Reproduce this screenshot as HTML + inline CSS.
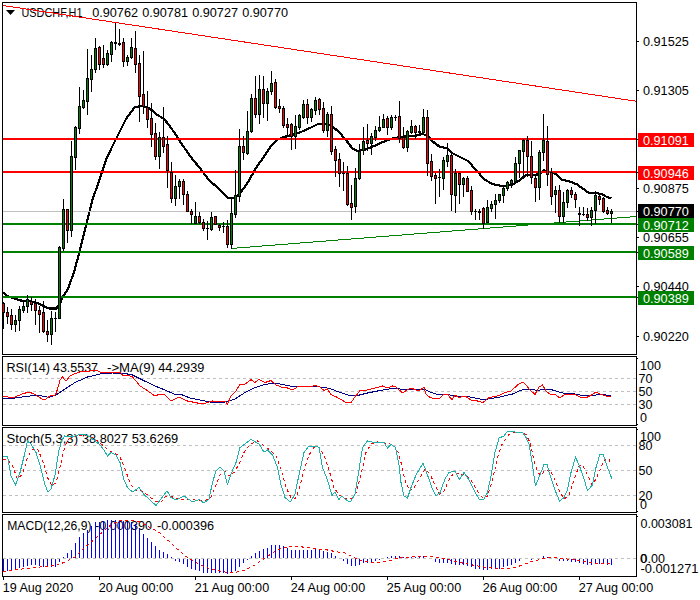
<!DOCTYPE html>
<html><head><meta charset="utf-8"><title>USDCHF,H1</title>
<style>html,body{margin:0;padding:0;background:#fff}svg{display:block}text{font-family:"Liberation Sans",sans-serif;font-size:12.5px;fill:#000}.w{fill:#fff}</style></head><body>
<svg width="700" height="600" viewBox="0 0 700 600">
<rect width="700" height="600" fill="#fff"/>
<polygon points="6,10 15,10 10.5,15" fill="#000"/>
<text x="21.5" y="17" textLength="61" lengthAdjust="spacingAndGlyphs">USDCHF,H1</text>
<text x="92.2" y="17" textLength="45.8" lengthAdjust="spacingAndGlyphs">0.90762</text>
<text x="142.2" y="17" textLength="45.8" lengthAdjust="spacingAndGlyphs">0.90781</text>
<text x="192.2" y="17" textLength="45.8" lengthAdjust="spacingAndGlyphs">0.90727</text>
<text x="242.2" y="17" textLength="45.8" lengthAdjust="spacingAndGlyphs">0.90770</text>
<text x="6.5" y="372" textLength="43.5" lengthAdjust="spacingAndGlyphs">RSI(14)</text>
<text x="53" y="372" textLength="45" lengthAdjust="spacingAndGlyphs">43.5537</text>
<text x="107" y="372" textLength="48" lengthAdjust="spacingAndGlyphs">-&gt;MA(9)</text>
<text x="158.3" y="372" textLength="46" lengthAdjust="spacingAndGlyphs">44.2939</text>
<text x="6.5" y="443" textLength="71.5" lengthAdjust="spacingAndGlyphs">Stoch(5,3,3)</text>
<text x="82" y="443" textLength="46" lengthAdjust="spacingAndGlyphs">38.8027</text>
<text x="131.7" y="443" textLength="46.5" lengthAdjust="spacingAndGlyphs">53.6269</text>
<text x="7.2" y="530" textLength="84.3" lengthAdjust="spacingAndGlyphs">MACD(12,26,9)</text>
<text x="95" y="530" textLength="57" lengthAdjust="spacingAndGlyphs">-0.000390</text>
<text x="157" y="530" textLength="57" lengthAdjust="spacingAndGlyphs">-0.000396</text>
<g shape-rendering="crispEdges">
</g>
<polyline points="2.8,292.4 8.0,296.4 20.0,300.4 32.0,301.6 40.0,304.0 48.0,308.4 56.0,308.6 60.0,304.0 62.0,298.0 68.0,289.0 74.0,272.0 80.0,250.0 86.4,224.0 92.4,200.0 100.0,178.0 106.0,160.0 112.0,147.0 118.0,135.0 126.0,119.0 135.0,107.0 142.0,106.0 150.0,108.6 156.0,114.0 164.0,119.0 169.0,125.0 176.0,135.0 179.0,140.0 190.0,156.0 203.0,172.0 208.0,179.0 220.0,190.0 228.0,198.0 235.0,198.0 240.0,193.6 248.0,182.0 256.0,168.0 263.0,158.0 271.0,146.0 273.0,144.0 277.0,140.0 282.0,137.5 288.0,136.0 294.0,134.5 300.0,132.4 310.0,128.0 318.0,124.0 328.0,124.0 334.0,128.0 338.0,131.0 346.0,140.0 352.0,148.0 357.0,151.0 364.0,150.0 374.0,146.0 384.0,141.6 394.0,138.0 404.0,136.6 414.0,136.0 423.0,134.0 429.0,137.0 432.0,141.0 440.0,147.0 447.0,148.0 452.0,153.0 460.0,157.0 468.0,161.0 476.0,170.0 484.0,179.0 492.0,184.0 502.0,186.0 512.0,185.0 520.0,180.0 526.0,175.0 534.0,175.0 540.0,174.0 544.0,170.0 548.0,172.0 552.0,172.0 556.0,174.4 561.5,179.4 570.0,181.5 577.0,184.4 583.0,188.7 588.7,192.7 597.3,193.0 603.0,194.7 607.3,197.3 611.6,198.0" fill="none" stroke="#000" stroke-width="2.2" stroke-linejoin="round" shape-rendering="crispEdges" />
<g shape-rendering="crispEdges">
<rect x="3" y="211" width="633" height="1" fill="#c0c0c0"/>
<rect x="3" y="138" width="633" height="2" fill="#ff0000"/>
<rect x="3" y="171" width="633" height="2" fill="#ff0000"/>
<rect x="3" y="223" width="633" height="2" fill="#008000"/>
<rect x="3" y="251" width="633" height="2" fill="#008000"/>
<rect x="3" y="296" width="633" height="2" fill="#008000"/>
</g>
<g shape-rendering="crispEdges" fill="none" stroke-width="1"><line x1="3" y1="5.5" x2="636" y2="101.2" stroke="#ff0000"/>
<line x1="231" y1="248.5" x2="636" y2="216.5" stroke="#008000"/></g>
<g shape-rendering="crispEdges">
<rect x="3" y="302" width="1" height="27" fill="#000"/>
<rect x="2" y="303" width="3" height="10" fill="#000"/>
<rect x="3" y="304" width="1" height="8" fill="#ff0000"/>
<rect x="7" y="307" width="1" height="17" fill="#000"/>
<rect x="6" y="312" width="3" height="5" fill="#000"/>
<rect x="7" y="313" width="1" height="3" fill="#ff0000"/>
<rect x="11" y="309" width="1" height="21" fill="#000"/>
<rect x="10" y="315" width="3" height="10" fill="#000"/>
<rect x="11" y="316" width="1" height="8" fill="#ff0000"/>
<rect x="15" y="315" width="1" height="17" fill="#000"/>
<rect x="14" y="320" width="3" height="5" fill="#000"/>
<rect x="15" y="321" width="1" height="3" fill="#008000"/>
<rect x="19" y="306" width="1" height="25" fill="#000"/>
<rect x="18" y="309" width="3" height="12" fill="#000"/>
<rect x="19" y="310" width="1" height="10" fill="#008000"/>
<rect x="23" y="302" width="1" height="11" fill="#000"/>
<rect x="22" y="306" width="3" height="5" fill="#000"/>
<rect x="23" y="307" width="1" height="3" fill="#008000"/>
<rect x="27" y="295" width="1" height="18" fill="#000"/>
<rect x="26" y="299" width="3" height="8" fill="#000"/>
<rect x="27" y="300" width="1" height="6" fill="#008000"/>
<rect x="31" y="297" width="1" height="14" fill="#000"/>
<rect x="30" y="301" width="3" height="4" fill="#000"/>
<rect x="31" y="302" width="1" height="2" fill="#ff0000"/>
<rect x="35" y="299" width="1" height="26" fill="#000"/>
<rect x="34" y="303" width="3" height="8" fill="#000"/>
<rect x="35" y="304" width="1" height="6" fill="#ff0000"/>
<rect x="39" y="306" width="1" height="27" fill="#000"/>
<rect x="38" y="310" width="3" height="5" fill="#000"/>
<rect x="39" y="311" width="1" height="3" fill="#ff0000"/>
<rect x="43" y="301" width="1" height="32" fill="#000"/>
<rect x="42" y="312" width="3" height="20" fill="#000"/>
<rect x="43" y="313" width="1" height="18" fill="#ff0000"/>
<rect x="47" y="320" width="1" height="22" fill="#000"/>
<rect x="46" y="331" width="3" height="4" fill="#000"/>
<rect x="47" y="332" width="1" height="2" fill="#ff0000"/>
<rect x="51" y="311" width="1" height="34" fill="#000"/>
<rect x="50" y="318" width="3" height="17" fill="#000"/>
<rect x="51" y="319" width="1" height="15" fill="#008000"/>
<rect x="55" y="312" width="1" height="20" fill="#000"/>
<rect x="54" y="318" width="3" height="1" fill="#000"/>
<rect x="59" y="246" width="1" height="73" fill="#000"/>
<rect x="58" y="247" width="3" height="72" fill="#000"/>
<rect x="59" y="248" width="1" height="70" fill="#008000"/>
<rect x="63" y="199" width="1" height="52" fill="#000"/>
<rect x="62" y="209" width="3" height="40" fill="#000"/>
<rect x="63" y="210" width="1" height="38" fill="#008000"/>
<rect x="67" y="209" width="1" height="34" fill="#000"/>
<rect x="66" y="209" width="3" height="22" fill="#000"/>
<rect x="67" y="210" width="1" height="20" fill="#ff0000"/>
<rect x="71" y="141" width="1" height="96" fill="#000"/>
<rect x="70" y="156" width="3" height="75" fill="#000"/>
<rect x="71" y="157" width="1" height="73" fill="#008000"/>
<rect x="75" y="126" width="1" height="44" fill="#000"/>
<rect x="74" y="127" width="3" height="31" fill="#000"/>
<rect x="75" y="128" width="1" height="29" fill="#008000"/>
<rect x="79" y="87" width="1" height="47" fill="#000"/>
<rect x="78" y="106" width="3" height="23" fill="#000"/>
<rect x="79" y="107" width="1" height="21" fill="#008000"/>
<rect x="83" y="90" width="1" height="19" fill="#000"/>
<rect x="82" y="100" width="3" height="8" fill="#000"/>
<rect x="83" y="101" width="1" height="6" fill="#008000"/>
<rect x="87" y="49" width="1" height="66" fill="#000"/>
<rect x="86" y="78" width="3" height="24" fill="#000"/>
<rect x="87" y="79" width="1" height="22" fill="#008000"/>
<rect x="91" y="55" width="1" height="37" fill="#000"/>
<rect x="90" y="69" width="3" height="11" fill="#000"/>
<rect x="91" y="70" width="1" height="9" fill="#008000"/>
<rect x="95" y="38" width="1" height="35" fill="#000"/>
<rect x="94" y="48" width="3" height="22" fill="#000"/>
<rect x="95" y="49" width="1" height="20" fill="#008000"/>
<rect x="99" y="46" width="1" height="24" fill="#000"/>
<rect x="98" y="47" width="3" height="18" fill="#000"/>
<rect x="99" y="48" width="1" height="16" fill="#ff0000"/>
<rect x="103" y="45" width="1" height="23" fill="#000"/>
<rect x="102" y="58" width="3" height="7" fill="#000"/>
<rect x="103" y="59" width="1" height="5" fill="#ff0000"/>
<rect x="107" y="50" width="1" height="16" fill="#000"/>
<rect x="106" y="53" width="3" height="12" fill="#000"/>
<rect x="107" y="54" width="1" height="10" fill="#008000"/>
<rect x="111" y="41" width="1" height="21" fill="#000"/>
<rect x="110" y="42" width="3" height="13" fill="#000"/>
<rect x="111" y="43" width="1" height="11" fill="#008000"/>
<rect x="115" y="23" width="1" height="27" fill="#000"/>
<rect x="114" y="42" width="3" height="2" fill="#000"/>
<rect x="119" y="29" width="1" height="17" fill="#000"/>
<rect x="118" y="43" width="3" height="2" fill="#000"/>
<rect x="123" y="38" width="1" height="29" fill="#000"/>
<rect x="122" y="42" width="3" height="20" fill="#000"/>
<rect x="123" y="43" width="1" height="18" fill="#ff0000"/>
<rect x="127" y="55" width="1" height="11" fill="#000"/>
<rect x="126" y="57" width="3" height="5" fill="#000"/>
<rect x="127" y="58" width="1" height="3" fill="#008000"/>
<rect x="131" y="38" width="1" height="21" fill="#000"/>
<rect x="130" y="47" width="3" height="11" fill="#000"/>
<rect x="131" y="48" width="1" height="9" fill="#008000"/>
<rect x="135" y="31" width="1" height="42" fill="#000"/>
<rect x="134" y="48" width="3" height="17" fill="#000"/>
<rect x="135" y="49" width="1" height="15" fill="#ff0000"/>
<rect x="139" y="55" width="1" height="67" fill="#000"/>
<rect x="138" y="63" width="3" height="34" fill="#000"/>
<rect x="139" y="64" width="1" height="32" fill="#ff0000"/>
<rect x="143" y="51" width="1" height="63" fill="#000"/>
<rect x="142" y="94" width="3" height="13" fill="#000"/>
<rect x="143" y="95" width="1" height="11" fill="#ff0000"/>
<rect x="147" y="91" width="1" height="37" fill="#000"/>
<rect x="146" y="107" width="3" height="13" fill="#000"/>
<rect x="147" y="108" width="1" height="11" fill="#ff0000"/>
<rect x="151" y="103" width="1" height="44" fill="#000"/>
<rect x="150" y="118" width="3" height="17" fill="#000"/>
<rect x="151" y="119" width="1" height="15" fill="#ff0000"/>
<rect x="155" y="123" width="1" height="37" fill="#000"/>
<rect x="154" y="133" width="3" height="24" fill="#000"/>
<rect x="155" y="134" width="1" height="22" fill="#ff0000"/>
<rect x="159" y="132" width="1" height="37" fill="#000"/>
<rect x="158" y="137" width="3" height="20" fill="#000"/>
<rect x="159" y="138" width="1" height="18" fill="#008000"/>
<rect x="163" y="107" width="1" height="46" fill="#000"/>
<rect x="162" y="137" width="3" height="10" fill="#000"/>
<rect x="163" y="138" width="1" height="8" fill="#ff0000"/>
<rect x="167" y="136" width="1" height="52" fill="#000"/>
<rect x="166" y="144" width="3" height="27" fill="#000"/>
<rect x="167" y="145" width="1" height="25" fill="#ff0000"/>
<rect x="171" y="162" width="1" height="41" fill="#000"/>
<rect x="170" y="172" width="3" height="27" fill="#000"/>
<rect x="171" y="173" width="1" height="25" fill="#ff0000"/>
<rect x="175" y="175" width="1" height="31" fill="#000"/>
<rect x="174" y="186" width="3" height="13" fill="#000"/>
<rect x="175" y="187" width="1" height="11" fill="#008000"/>
<rect x="179" y="179" width="1" height="20" fill="#000"/>
<rect x="178" y="181" width="3" height="6" fill="#000"/>
<rect x="179" y="182" width="1" height="4" fill="#008000"/>
<rect x="183" y="179" width="1" height="26" fill="#000"/>
<rect x="182" y="181" width="3" height="14" fill="#000"/>
<rect x="183" y="182" width="1" height="12" fill="#ff0000"/>
<rect x="187" y="191" width="1" height="21" fill="#000"/>
<rect x="186" y="194" width="3" height="18" fill="#000"/>
<rect x="187" y="195" width="1" height="16" fill="#ff0000"/>
<rect x="191" y="209" width="1" height="15" fill="#000"/>
<rect x="190" y="211" width="3" height="4" fill="#000"/>
<rect x="191" y="212" width="1" height="2" fill="#ff0000"/>
<rect x="195" y="202" width="1" height="22" fill="#000"/>
<rect x="194" y="216" width="3" height="8" fill="#000"/>
<rect x="195" y="217" width="1" height="6" fill="#008000"/>
<rect x="199" y="212" width="1" height="12" fill="#000"/>
<rect x="198" y="216" width="3" height="7" fill="#000"/>
<rect x="199" y="217" width="1" height="5" fill="#ff0000"/>
<rect x="203" y="219" width="1" height="12" fill="#000"/>
<rect x="202" y="222" width="3" height="7" fill="#000"/>
<rect x="203" y="223" width="1" height="5" fill="#ff0000"/>
<rect x="207" y="221" width="1" height="19" fill="#000"/>
<rect x="206" y="228" width="3" height="1" fill="#000"/>
<rect x="211" y="212" width="1" height="19" fill="#000"/>
<rect x="210" y="217" width="3" height="13" fill="#000"/>
<rect x="211" y="218" width="1" height="11" fill="#008000"/>
<rect x="215" y="216" width="1" height="9" fill="#000"/>
<rect x="214" y="216" width="3" height="9" fill="#000"/>
<rect x="215" y="217" width="1" height="7" fill="#ff0000"/>
<rect x="219" y="224" width="1" height="7" fill="#000"/>
<rect x="218" y="225" width="3" height="3" fill="#000"/>
<rect x="219" y="226" width="1" height="1" fill="#ff0000"/>
<rect x="223" y="222" width="1" height="11" fill="#000"/>
<rect x="222" y="226" width="3" height="1" fill="#000"/>
<rect x="227" y="220" width="1" height="28" fill="#000"/>
<rect x="226" y="226" width="3" height="19" fill="#000"/>
<rect x="227" y="227" width="1" height="17" fill="#ff0000"/>
<rect x="231" y="198" width="1" height="51" fill="#000"/>
<rect x="230" y="213" width="3" height="32" fill="#000"/>
<rect x="231" y="214" width="1" height="30" fill="#008000"/>
<rect x="235" y="170" width="1" height="48" fill="#000"/>
<rect x="234" y="195" width="3" height="20" fill="#000"/>
<rect x="235" y="196" width="1" height="18" fill="#008000"/>
<rect x="239" y="129" width="1" height="73" fill="#000"/>
<rect x="238" y="146" width="3" height="51" fill="#000"/>
<rect x="239" y="147" width="1" height="49" fill="#008000"/>
<rect x="243" y="136" width="1" height="24" fill="#000"/>
<rect x="242" y="146" width="3" height="7" fill="#000"/>
<rect x="243" y="147" width="1" height="5" fill="#ff0000"/>
<rect x="247" y="111" width="1" height="44" fill="#000"/>
<rect x="246" y="131" width="3" height="23" fill="#000"/>
<rect x="247" y="132" width="1" height="21" fill="#008000"/>
<rect x="251" y="94" width="1" height="39" fill="#000"/>
<rect x="250" y="98" width="3" height="34" fill="#000"/>
<rect x="251" y="99" width="1" height="32" fill="#008000"/>
<rect x="255" y="76" width="1" height="42" fill="#000"/>
<rect x="254" y="98" width="3" height="17" fill="#000"/>
<rect x="255" y="99" width="1" height="15" fill="#ff0000"/>
<rect x="259" y="75" width="1" height="49" fill="#000"/>
<rect x="258" y="89" width="3" height="26" fill="#000"/>
<rect x="259" y="90" width="1" height="24" fill="#008000"/>
<rect x="263" y="76" width="1" height="42" fill="#000"/>
<rect x="262" y="89" width="3" height="15" fill="#000"/>
<rect x="263" y="90" width="1" height="13" fill="#ff0000"/>
<rect x="267" y="88" width="1" height="33" fill="#000"/>
<rect x="266" y="91" width="3" height="13" fill="#000"/>
<rect x="267" y="92" width="1" height="11" fill="#008000"/>
<rect x="271" y="71" width="1" height="24" fill="#000"/>
<rect x="270" y="83" width="3" height="9" fill="#000"/>
<rect x="271" y="84" width="1" height="7" fill="#008000"/>
<rect x="275" y="79" width="1" height="30" fill="#000"/>
<rect x="274" y="82" width="3" height="26" fill="#000"/>
<rect x="275" y="83" width="1" height="24" fill="#ff0000"/>
<rect x="279" y="99" width="1" height="14" fill="#000"/>
<rect x="278" y="106" width="3" height="3" fill="#000"/>
<rect x="279" y="107" width="1" height="1" fill="#ff0000"/>
<rect x="283" y="106" width="1" height="22" fill="#000"/>
<rect x="282" y="108" width="3" height="18" fill="#000"/>
<rect x="283" y="109" width="1" height="16" fill="#ff0000"/>
<rect x="287" y="118" width="1" height="18" fill="#000"/>
<rect x="286" y="124" width="3" height="4" fill="#000"/>
<rect x="287" y="125" width="1" height="2" fill="#ff0000"/>
<rect x="291" y="123" width="1" height="27" fill="#000"/>
<rect x="290" y="124" width="3" height="13" fill="#000"/>
<rect x="291" y="125" width="1" height="11" fill="#ff0000"/>
<rect x="295" y="115" width="1" height="34" fill="#000"/>
<rect x="294" y="126" width="3" height="11" fill="#000"/>
<rect x="295" y="127" width="1" height="9" fill="#008000"/>
<rect x="299" y="114" width="1" height="16" fill="#000"/>
<rect x="298" y="115" width="3" height="13" fill="#000"/>
<rect x="299" y="116" width="1" height="11" fill="#008000"/>
<rect x="303" y="100" width="1" height="19" fill="#000"/>
<rect x="302" y="104" width="3" height="14" fill="#000"/>
<rect x="303" y="105" width="1" height="12" fill="#008000"/>
<rect x="307" y="99" width="1" height="25" fill="#000"/>
<rect x="306" y="104" width="3" height="14" fill="#000"/>
<rect x="307" y="105" width="1" height="12" fill="#ff0000"/>
<rect x="311" y="108" width="1" height="14" fill="#000"/>
<rect x="310" y="109" width="3" height="9" fill="#000"/>
<rect x="311" y="110" width="1" height="7" fill="#008000"/>
<rect x="315" y="97" width="1" height="18" fill="#000"/>
<rect x="314" y="100" width="3" height="11" fill="#000"/>
<rect x="315" y="101" width="1" height="9" fill="#008000"/>
<rect x="319" y="98" width="1" height="17" fill="#000"/>
<rect x="318" y="99" width="3" height="11" fill="#000"/>
<rect x="319" y="100" width="1" height="9" fill="#ff0000"/>
<rect x="323" y="102" width="1" height="31" fill="#000"/>
<rect x="322" y="108" width="3" height="23" fill="#000"/>
<rect x="323" y="109" width="1" height="21" fill="#ff0000"/>
<rect x="327" y="112" width="1" height="25" fill="#000"/>
<rect x="326" y="114" width="3" height="17" fill="#000"/>
<rect x="327" y="115" width="1" height="15" fill="#008000"/>
<rect x="331" y="106" width="1" height="49" fill="#000"/>
<rect x="330" y="114" width="3" height="38" fill="#000"/>
<rect x="331" y="115" width="1" height="36" fill="#ff0000"/>
<rect x="335" y="146" width="1" height="31" fill="#000"/>
<rect x="334" y="149" width="3" height="12" fill="#000"/>
<rect x="335" y="150" width="1" height="10" fill="#ff0000"/>
<rect x="339" y="153" width="1" height="34" fill="#000"/>
<rect x="338" y="159" width="3" height="15" fill="#000"/>
<rect x="339" y="160" width="1" height="13" fill="#ff0000"/>
<rect x="343" y="162" width="1" height="29" fill="#000"/>
<rect x="342" y="173" width="3" height="1" fill="#000"/>
<rect x="347" y="166" width="1" height="40" fill="#000"/>
<rect x="346" y="173" width="3" height="32" fill="#000"/>
<rect x="347" y="174" width="1" height="30" fill="#ff0000"/>
<rect x="351" y="185" width="1" height="35" fill="#000"/>
<rect x="350" y="203" width="3" height="5" fill="#000"/>
<rect x="351" y="204" width="1" height="3" fill="#ff0000"/>
<rect x="355" y="168" width="1" height="45" fill="#000"/>
<rect x="354" y="178" width="3" height="29" fill="#000"/>
<rect x="355" y="179" width="1" height="27" fill="#008000"/>
<rect x="359" y="144" width="1" height="36" fill="#000"/>
<rect x="358" y="151" width="3" height="28" fill="#000"/>
<rect x="359" y="152" width="1" height="26" fill="#008000"/>
<rect x="363" y="127" width="1" height="28" fill="#000"/>
<rect x="362" y="141" width="3" height="10" fill="#000"/>
<rect x="363" y="142" width="1" height="8" fill="#008000"/>
<rect x="367" y="124" width="1" height="27" fill="#000"/>
<rect x="366" y="140" width="3" height="4" fill="#000"/>
<rect x="367" y="141" width="1" height="2" fill="#ff0000"/>
<rect x="371" y="133" width="1" height="22" fill="#000"/>
<rect x="370" y="136" width="3" height="8" fill="#000"/>
<rect x="371" y="137" width="1" height="6" fill="#008000"/>
<rect x="375" y="126" width="1" height="15" fill="#000"/>
<rect x="374" y="130" width="3" height="8" fill="#000"/>
<rect x="375" y="131" width="1" height="6" fill="#008000"/>
<rect x="379" y="116" width="1" height="16" fill="#000"/>
<rect x="378" y="127" width="3" height="4" fill="#000"/>
<rect x="379" y="128" width="1" height="2" fill="#008000"/>
<rect x="383" y="114" width="1" height="14" fill="#000"/>
<rect x="382" y="119" width="3" height="9" fill="#000"/>
<rect x="383" y="120" width="1" height="7" fill="#008000"/>
<rect x="387" y="116" width="1" height="19" fill="#000"/>
<rect x="386" y="118" width="3" height="10" fill="#000"/>
<rect x="387" y="119" width="1" height="8" fill="#ff0000"/>
<rect x="391" y="115" width="1" height="15" fill="#000"/>
<rect x="390" y="117" width="3" height="11" fill="#000"/>
<rect x="391" y="118" width="1" height="9" fill="#008000"/>
<rect x="395" y="115" width="1" height="6" fill="#000"/>
<rect x="394" y="117" width="3" height="1" fill="#000"/>
<rect x="399" y="101" width="1" height="42" fill="#000"/>
<rect x="398" y="116" width="3" height="23" fill="#000"/>
<rect x="399" y="117" width="1" height="21" fill="#ff0000"/>
<rect x="403" y="127" width="1" height="22" fill="#000"/>
<rect x="402" y="137" width="3" height="11" fill="#000"/>
<rect x="403" y="138" width="1" height="9" fill="#ff0000"/>
<rect x="407" y="130" width="1" height="22" fill="#000"/>
<rect x="406" y="131" width="3" height="17" fill="#000"/>
<rect x="407" y="132" width="1" height="15" fill="#008000"/>
<rect x="411" y="120" width="1" height="14" fill="#000"/>
<rect x="410" y="126" width="3" height="7" fill="#000"/>
<rect x="411" y="127" width="1" height="5" fill="#008000"/>
<rect x="415" y="125" width="1" height="14" fill="#000"/>
<rect x="414" y="126" width="3" height="7" fill="#000"/>
<rect x="415" y="127" width="1" height="5" fill="#ff0000"/>
<rect x="419" y="125" width="1" height="11" fill="#000"/>
<rect x="418" y="131" width="3" height="2" fill="#000"/>
<rect x="423" y="109" width="1" height="26" fill="#000"/>
<rect x="422" y="117" width="3" height="16" fill="#000"/>
<rect x="423" y="118" width="1" height="14" fill="#008000"/>
<rect x="427" y="110" width="1" height="66" fill="#000"/>
<rect x="426" y="117" width="3" height="47" fill="#000"/>
<rect x="427" y="118" width="1" height="45" fill="#ff0000"/>
<rect x="431" y="154" width="1" height="27" fill="#000"/>
<rect x="430" y="161" width="3" height="16" fill="#000"/>
<rect x="431" y="162" width="1" height="14" fill="#ff0000"/>
<rect x="435" y="173" width="1" height="31" fill="#000"/>
<rect x="434" y="175" width="3" height="4" fill="#000"/>
<rect x="435" y="176" width="1" height="2" fill="#ff0000"/>
<rect x="439" y="169" width="1" height="28" fill="#000"/>
<rect x="438" y="177" width="3" height="1" fill="#000"/>
<rect x="443" y="157" width="1" height="33" fill="#000"/>
<rect x="442" y="160" width="3" height="19" fill="#000"/>
<rect x="443" y="161" width="1" height="17" fill="#008000"/>
<rect x="447" y="143" width="1" height="24" fill="#000"/>
<rect x="446" y="155" width="3" height="7" fill="#000"/>
<rect x="447" y="156" width="1" height="5" fill="#008000"/>
<rect x="451" y="153" width="1" height="58" fill="#000"/>
<rect x="450" y="155" width="3" height="40" fill="#000"/>
<rect x="451" y="156" width="1" height="38" fill="#ff0000"/>
<rect x="455" y="169" width="1" height="44" fill="#000"/>
<rect x="454" y="173" width="3" height="23" fill="#000"/>
<rect x="455" y="174" width="1" height="21" fill="#008000"/>
<rect x="459" y="173" width="1" height="31" fill="#000"/>
<rect x="458" y="173" width="3" height="12" fill="#000"/>
<rect x="459" y="174" width="1" height="10" fill="#ff0000"/>
<rect x="463" y="177" width="1" height="20" fill="#000"/>
<rect x="462" y="178" width="3" height="7" fill="#000"/>
<rect x="463" y="179" width="1" height="5" fill="#008000"/>
<rect x="467" y="176" width="1" height="16" fill="#000"/>
<rect x="466" y="178" width="3" height="14" fill="#000"/>
<rect x="467" y="179" width="1" height="12" fill="#ff0000"/>
<rect x="471" y="186" width="1" height="29" fill="#000"/>
<rect x="470" y="190" width="3" height="22" fill="#000"/>
<rect x="471" y="191" width="1" height="20" fill="#ff0000"/>
<rect x="475" y="209" width="1" height="11" fill="#000"/>
<rect x="474" y="211" width="3" height="1" fill="#000"/>
<rect x="479" y="209" width="1" height="11" fill="#000"/>
<rect x="478" y="211" width="3" height="2" fill="#000"/>
<rect x="483" y="207" width="1" height="22" fill="#000"/>
<rect x="482" y="208" width="3" height="16" fill="#000"/>
<rect x="483" y="209" width="1" height="14" fill="#ff0000"/>
<rect x="487" y="200" width="1" height="23" fill="#000"/>
<rect x="486" y="207" width="3" height="16" fill="#000"/>
<rect x="487" y="208" width="1" height="14" fill="#008000"/>
<rect x="491" y="201" width="1" height="11" fill="#000"/>
<rect x="490" y="204" width="3" height="5" fill="#000"/>
<rect x="491" y="205" width="1" height="3" fill="#008000"/>
<rect x="495" y="194" width="1" height="25" fill="#000"/>
<rect x="494" y="200" width="3" height="5" fill="#000"/>
<rect x="495" y="201" width="1" height="3" fill="#008000"/>
<rect x="499" y="194" width="1" height="9" fill="#000"/>
<rect x="498" y="194" width="3" height="7" fill="#000"/>
<rect x="499" y="195" width="1" height="5" fill="#008000"/>
<rect x="503" y="187" width="1" height="16" fill="#000"/>
<rect x="502" y="188" width="3" height="8" fill="#000"/>
<rect x="503" y="189" width="1" height="6" fill="#008000"/>
<rect x="507" y="181" width="1" height="10" fill="#000"/>
<rect x="506" y="182" width="3" height="7" fill="#000"/>
<rect x="507" y="183" width="1" height="5" fill="#008000"/>
<rect x="511" y="179" width="1" height="9" fill="#000"/>
<rect x="510" y="180" width="3" height="4" fill="#000"/>
<rect x="511" y="181" width="1" height="2" fill="#008000"/>
<rect x="515" y="157" width="1" height="27" fill="#000"/>
<rect x="514" y="163" width="3" height="19" fill="#000"/>
<rect x="515" y="164" width="1" height="17" fill="#008000"/>
<rect x="519" y="150" width="1" height="28" fill="#000"/>
<rect x="518" y="150" width="3" height="14" fill="#000"/>
<rect x="519" y="151" width="1" height="12" fill="#008000"/>
<rect x="523" y="139" width="1" height="38" fill="#000"/>
<rect x="522" y="140" width="3" height="12" fill="#000"/>
<rect x="523" y="141" width="1" height="10" fill="#008000"/>
<rect x="527" y="136" width="1" height="41" fill="#000"/>
<rect x="526" y="140" width="3" height="17" fill="#000"/>
<rect x="527" y="141" width="1" height="15" fill="#ff0000"/>
<rect x="531" y="141" width="1" height="43" fill="#000"/>
<rect x="530" y="156" width="3" height="22" fill="#000"/>
<rect x="531" y="157" width="1" height="20" fill="#ff0000"/>
<rect x="535" y="176" width="1" height="26" fill="#000"/>
<rect x="534" y="178" width="3" height="10" fill="#000"/>
<rect x="535" y="179" width="1" height="8" fill="#ff0000"/>
<rect x="539" y="150" width="1" height="50" fill="#000"/>
<rect x="538" y="152" width="3" height="36" fill="#000"/>
<rect x="539" y="153" width="1" height="34" fill="#008000"/>
<rect x="543" y="114" width="1" height="47" fill="#000"/>
<rect x="542" y="140" width="3" height="13" fill="#000"/>
<rect x="543" y="141" width="1" height="11" fill="#008000"/>
<rect x="547" y="126" width="1" height="60" fill="#000"/>
<rect x="546" y="141" width="3" height="34" fill="#000"/>
<rect x="547" y="142" width="1" height="32" fill="#ff0000"/>
<rect x="551" y="168" width="1" height="37" fill="#000"/>
<rect x="550" y="172" width="3" height="25" fill="#000"/>
<rect x="551" y="173" width="1" height="23" fill="#ff0000"/>
<rect x="555" y="186" width="1" height="27" fill="#000"/>
<rect x="554" y="190" width="3" height="5" fill="#000"/>
<rect x="555" y="191" width="1" height="3" fill="#008000"/>
<rect x="559" y="185" width="1" height="38" fill="#000"/>
<rect x="558" y="190" width="3" height="27" fill="#000"/>
<rect x="559" y="191" width="1" height="25" fill="#ff0000"/>
<rect x="563" y="192" width="1" height="31" fill="#000"/>
<rect x="562" y="202" width="3" height="15" fill="#000"/>
<rect x="563" y="203" width="1" height="13" fill="#008000"/>
<rect x="567" y="189" width="1" height="19" fill="#000"/>
<rect x="566" y="190" width="3" height="13" fill="#000"/>
<rect x="567" y="191" width="1" height="11" fill="#008000"/>
<rect x="571" y="187" width="1" height="11" fill="#000"/>
<rect x="570" y="190" width="3" height="5" fill="#000"/>
<rect x="571" y="191" width="1" height="3" fill="#ff0000"/>
<rect x="575" y="192" width="1" height="16" fill="#000"/>
<rect x="574" y="194" width="3" height="6" fill="#000"/>
<rect x="575" y="195" width="1" height="4" fill="#ff0000"/>
<rect x="579" y="207" width="1" height="19" fill="#000"/>
<rect x="578" y="213" width="3" height="2" fill="#000"/>
<rect x="583" y="207" width="1" height="9" fill="#000"/>
<rect x="582" y="214" width="3" height="1" fill="#000"/>
<rect x="587" y="208" width="1" height="13" fill="#000"/>
<rect x="586" y="214" width="3" height="4" fill="#000"/>
<rect x="587" y="215" width="1" height="2" fill="#ff0000"/>
<rect x="591" y="207" width="1" height="19" fill="#000"/>
<rect x="590" y="210" width="3" height="8" fill="#000"/>
<rect x="591" y="211" width="1" height="6" fill="#008000"/>
<rect x="595" y="191" width="1" height="33" fill="#000"/>
<rect x="594" y="195" width="3" height="16" fill="#000"/>
<rect x="595" y="196" width="1" height="14" fill="#008000"/>
<rect x="599" y="194" width="1" height="11" fill="#000"/>
<rect x="598" y="196" width="3" height="4" fill="#000"/>
<rect x="599" y="197" width="1" height="2" fill="#ff0000"/>
<rect x="603" y="197" width="1" height="16" fill="#000"/>
<rect x="602" y="198" width="3" height="14" fill="#000"/>
<rect x="603" y="199" width="1" height="12" fill="#ff0000"/>
<rect x="607" y="207" width="1" height="8" fill="#000"/>
<rect x="606" y="210" width="3" height="4" fill="#000"/>
<rect x="607" y="211" width="1" height="2" fill="#ff0000"/>
<rect x="611" y="209" width="1" height="14" fill="#000"/>
<rect x="610" y="211" width="3" height="3" fill="#000"/>
<rect x="611" y="212" width="1" height="1" fill="#008000"/>
</g>
<g shape-rendering="crispEdges">
<line x1="3" y1="378.5" x2="636" y2="378.5" stroke="#c0c0c0" stroke-width="1" stroke-dasharray="3 3"/>
<line x1="3" y1="391.5" x2="636" y2="391.5" stroke="#c0c0c0" stroke-width="1" stroke-dasharray="3 3"/>
<line x1="3" y1="404.5" x2="636" y2="404.5" stroke="#c0c0c0" stroke-width="1" stroke-dasharray="3 3"/>
<line x1="3" y1="445.5" x2="636" y2="445.5" stroke="#c0c0c0" stroke-width="1" stroke-dasharray="3 3"/>
<line x1="3" y1="470.5" x2="636" y2="470.5" stroke="#c0c0c0" stroke-width="1" stroke-dasharray="3 3"/>
<line x1="3" y1="495.5" x2="636" y2="495.5" stroke="#c0c0c0" stroke-width="1" stroke-dasharray="3 3"/>
<line x1="3" y1="558.5" x2="636" y2="558.5" stroke="#c0c0c0" stroke-width="1" stroke-dasharray="3 3"/>
</g>
<polyline points="3.0,398.0 15.0,398.0 30.0,396.0 40.0,395.5 49.0,397.5 56.0,395.0 65.0,389.0 75.0,382.5 87.5,377.0 100.0,374.0 112.5,373.0 122.5,373.0 132.5,375.0 142.5,380.0 155.0,386.0 165.0,390.0 175.0,394.5 182.5,395.0 190.0,398.0 200.0,400.0 210.0,402.0 225.0,402.0 235.0,399.0 245.0,392.5 255.0,387.5 265.0,384.5 275.0,383.0 285.0,385.0 295.0,387.0 305.0,386.0 320.0,387.0 330.0,388.5 340.0,392.5 351.0,396.0 357.5,395.5 367.5,393.0 380.0,390.5 395.0,388.0 402.5,389.5 415.0,389.5 424.0,389.0 430.0,392.0 437.5,394.5 447.5,394.5 455.0,396.0 465.0,396.0 472.5,397.5 480.0,399.0 487.5,399.0 500.0,397.0 512.5,394.0 524.0,389.0 532.5,389.5 537.5,390.5 544.0,389.0 552.5,390.0 562.5,393.0 575.0,394.0 585.0,396.0 592.5,395.5 600.0,394.5 611.0,395.5" fill="none" stroke="#000080" stroke-width="1" stroke-linejoin="round" shape-rendering="crispEdges" />
<polyline points="3.0,396.0 10.0,397.5 15.0,397.0 22.0,394.0 29.0,392.0 35.0,394.5 42.0,399.0 46.0,399.0 50.0,396.0 55.5,395.0 58.0,387.5 60.0,380.0 62.5,377.0 66.0,381.0 70.0,376.0 74.0,374.0 80.0,372.0 90.0,371.0 96.0,370.0 100.0,372.0 107.5,372.5 115.0,372.0 120.0,372.0 122.5,375.0 127.5,375.0 132.5,377.0 136.0,381.0 140.0,386.0 145.0,389.0 150.0,392.5 155.0,396.0 160.0,394.0 165.0,395.0 171.0,401.0 179.0,397.0 187.5,401.0 202.5,404.0 212.5,401.0 220.0,402.0 225.0,401.0 227.5,404.0 231.0,396.0 236.0,391.0 240.0,384.0 244.0,385.0 251.0,379.5 255.0,382.5 259.0,379.5 265.0,382.5 271.0,380.5 276.0,385.0 282.5,387.5 287.5,388.0 292.5,390.0 299.0,386.0 304.0,386.0 309.0,387.0 315.0,385.5 320.0,387.0 324.0,390.5 327.5,389.0 331.0,394.5 337.5,397.5 346.0,402.5 351.0,402.5 355.0,397.0 360.0,390.5 367.5,390.0 375.0,388.0 382.5,386.0 387.5,388.0 392.5,386.0 396.0,387.0 399.0,390.0 403.0,393.0 407.5,389.5 411.0,388.0 416.0,390.0 420.0,390.0 424.0,387.5 426.0,394.0 430.0,397.5 435.0,399.0 440.0,398.0 444.0,394.0 447.5,394.0 452.0,400.0 455.0,395.0 459.0,397.5 465.0,396.0 471.0,400.0 477.5,401.0 483.0,402.5 489.0,397.5 497.5,396.0 505.0,392.5 511.0,391.0 517.5,385.0 523.0,382.0 526.0,385.0 530.0,390.0 535.0,394.5 539.0,387.0 542.5,385.0 546.0,391.0 551.0,395.0 555.0,394.5 560.0,398.0 565.0,394.0 575.0,394.5 580.0,397.0 587.5,397.0 592.5,394.5 596.0,392.0 600.0,394.0 606.0,396.0 611.0,396.0" fill="none" stroke="#ff0000" stroke-width="1" stroke-linejoin="round" shape-rendering="crispEdges" />
<polyline points="3.0,459.0 7.5,459.0 12.5,466.0 17.5,479.0 22.5,474.0 27.5,457.5 32.5,449.0 37.5,449.0 42.5,460.0 47.5,477.5 52.0,486.0 56.0,482.5 60.0,467.5 64.0,450.0 67.5,440.0 72.5,437.0 80.0,435.0 87.5,435.5 95.0,439.0 102.5,445.0 109.0,451.0 115.0,453.0 120.0,457.0 125.0,469.0 130.0,482.5 135.0,490.5 141.0,490.5 147.5,495.0 155.0,501.0 161.0,502.0 166.0,496.0 172.5,497.0 180.0,499.0 187.5,499.0 195.0,500.0 202.5,501.0 210.0,499.0 215.0,487.5 220.0,475.0 225.0,471.0 229.0,476.0 234.0,472.5 239.0,464.0 244.0,452.5 250.0,444.5 257.5,441.0 264.0,446.0 270.0,450.0 276.0,456.0 281.0,469.0 286.0,487.5 291.0,497.5 295.0,499.0 299.0,490.0 304.0,470.0 309.0,455.0 314.0,447.5 319.0,447.0 324.0,455.0 329.0,470.0 334.0,487.5 339.0,495.0 345.0,498.0 351.0,499.0 356.0,492.5 361.0,475.0 366.0,452.5 371.0,444.0 377.5,442.0 385.0,443.0 392.5,444.5 397.5,450.0 401.0,462.5 405.0,480.0 409.5,491.0 414.0,487.5 419.0,479.0 425.0,469.5 430.0,474.0 435.0,485.0 439.5,494.0 444.0,491.0 449.0,480.0 454.0,472.5 460.0,474.0 466.0,475.0 471.0,480.0 477.5,491.0 482.5,498.0 487.5,496.0 492.5,480.0 497.5,457.5 502.5,443.0 509.0,434.5 514.0,432.5 520.0,432.5 526.0,434.5 530.0,442.5 534.0,460.0 537.5,472.5 541.0,475.0 545.5,470.0 550.0,470.0 555.0,480.0 560.0,492.5 564.5,499.0 569.0,495.0 574.0,480.0 579.0,466.0 582.5,465.0 587.5,475.0 592.0,485.0 596.0,479.0 601.0,467.5 605.0,459.0 609.0,459.0 611.0,465.0" fill="none" stroke="#ff0000" stroke-width="1" stroke-linejoin="round" shape-rendering="crispEdges" stroke-dasharray="3 3"/>
<polyline points="3.0,456.0 7.5,456.0 11.0,476.0 15.5,485.0 20.0,472.5 25.0,452.5 27.5,441.0 31.0,444.0 36.0,452.5 40.0,465.0 45.0,485.0 48.0,492.0 51.0,489.0 55.0,475.0 59.0,450.0 62.0,440.0 64.5,436.0 70.0,437.0 75.0,436.0 79.0,434.5 85.0,434.5 90.0,437.0 95.0,441.0 100.0,445.0 104.0,450.0 107.5,456.0 111.0,452.5 116.0,455.0 120.0,462.5 124.0,480.0 127.5,487.5 132.5,492.0 139.0,487.5 144.0,494.5 150.0,500.0 156.0,505.5 161.0,499.0 167.0,491.0 171.0,497.5 176.0,500.0 184.0,496.0 189.0,499.5 192.5,502.0 199.0,499.5 204.0,503.0 209.0,499.0 212.5,482.5 216.0,471.0 220.0,467.0 224.0,471.0 227.5,485.0 231.0,474.0 236.0,462.5 240.0,447.5 245.0,444.0 251.0,439.5 259.0,444.0 264.0,452.0 267.5,450.0 272.5,455.0 277.5,467.5 281.0,485.0 285.0,497.5 289.0,501.0 291.0,501.0 295.0,494.0 300.0,470.0 304.0,452.5 309.0,446.0 315.0,446.0 319.0,447.5 322.5,467.5 327.5,480.0 332.0,495.5 335.0,492.0 339.0,499.5 342.0,496.0 347.5,501.0 351.0,501.0 355.0,494.0 359.0,470.0 362.5,447.5 367.5,441.0 374.0,442.5 384.0,442.5 387.5,448.0 391.0,444.5 395.5,447.5 399.0,465.0 401.0,482.5 404.0,496.0 407.5,498.0 411.0,487.5 416.0,475.0 423.0,463.0 427.5,475.0 432.5,489.0 436.0,496.0 440.0,492.5 445.0,479.0 449.0,472.5 455.0,471.0 459.5,479.5 464.0,472.5 469.0,480.0 474.0,490.0 479.5,500.0 484.0,499.0 487.5,492.5 491.0,476.0 495.0,452.5 499.0,438.0 504.0,436.0 507.5,431.0 512.5,431.0 517.5,433.0 522.5,432.5 526.0,437.5 529.0,444.0 532.5,465.0 535.5,486.0 540.0,475.0 544.0,464.5 547.0,464.5 550.0,475.0 555.0,490.0 559.5,501.0 564.0,497.5 567.5,490.0 571.0,472.5 575.5,457.0 580.0,467.5 584.0,479.0 587.5,490.5 592.5,485.0 596.0,467.5 600.0,454.0 603.0,454.0 607.5,467.5 612.0,479.0" fill="none" stroke="#20b2aa" stroke-width="1" stroke-linejoin="round" shape-rendering="crispEdges" />
<g shape-rendering="crispEdges">
<rect x="3" y="559" width="1" height="13" fill="#0000ff"/>
<rect x="7" y="559" width="1" height="12" fill="#0000ff"/>
<rect x="11" y="559" width="1" height="11" fill="#0000ff"/>
<rect x="15" y="559" width="1" height="10" fill="#0000ff"/>
<rect x="19" y="559" width="1" height="9" fill="#0000ff"/>
<rect x="23" y="559" width="1" height="8" fill="#0000ff"/>
<rect x="27" y="559" width="1" height="7" fill="#0000ff"/>
<rect x="31" y="559" width="1" height="6" fill="#0000ff"/>
<rect x="35" y="559" width="1" height="6" fill="#0000ff"/>
<rect x="39" y="559" width="1" height="7" fill="#0000ff"/>
<rect x="43" y="559" width="1" height="8" fill="#0000ff"/>
<rect x="47" y="559" width="1" height="8" fill="#0000ff"/>
<rect x="51" y="559" width="1" height="8" fill="#0000ff"/>
<rect x="55" y="559" width="1" height="8" fill="#0000ff"/>
<rect x="59" y="559" width="1" height="3" fill="#0000ff"/>
<rect x="63" y="557" width="1" height="1" fill="#0000ff"/>
<rect x="67" y="553" width="1" height="5" fill="#0000ff"/>
<rect x="71" y="550" width="1" height="8" fill="#0000ff"/>
<rect x="75" y="543" width="1" height="15" fill="#0000ff"/>
<rect x="79" y="537" width="1" height="21" fill="#0000ff"/>
<rect x="83" y="533" width="1" height="25" fill="#0000ff"/>
<rect x="87" y="530" width="1" height="28" fill="#0000ff"/>
<rect x="91" y="526" width="1" height="32" fill="#0000ff"/>
<rect x="95" y="522" width="1" height="36" fill="#0000ff"/>
<rect x="99" y="522" width="1" height="36" fill="#0000ff"/>
<rect x="103" y="521" width="1" height="37" fill="#0000ff"/>
<rect x="107" y="520" width="1" height="38" fill="#0000ff"/>
<rect x="111" y="520" width="1" height="38" fill="#0000ff"/>
<rect x="115" y="520" width="1" height="38" fill="#0000ff"/>
<rect x="119" y="520" width="1" height="38" fill="#0000ff"/>
<rect x="123" y="521" width="1" height="37" fill="#0000ff"/>
<rect x="127" y="522" width="1" height="36" fill="#0000ff"/>
<rect x="131" y="522" width="1" height="36" fill="#0000ff"/>
<rect x="135" y="524" width="1" height="34" fill="#0000ff"/>
<rect x="139" y="528" width="1" height="30" fill="#0000ff"/>
<rect x="143" y="534" width="1" height="24" fill="#0000ff"/>
<rect x="147" y="538" width="1" height="20" fill="#0000ff"/>
<rect x="151" y="542" width="1" height="16" fill="#0000ff"/>
<rect x="155" y="546" width="1" height="12" fill="#0000ff"/>
<rect x="159" y="550" width="1" height="8" fill="#0000ff"/>
<rect x="163" y="552" width="1" height="6" fill="#0000ff"/>
<rect x="167" y="554" width="1" height="4" fill="#0000ff"/>
<rect x="171" y="557" width="1" height="1" fill="#0000ff"/>
<rect x="175" y="559" width="1" height="2" fill="#0000ff"/>
<rect x="179" y="559" width="1" height="3" fill="#0000ff"/>
<rect x="183" y="559" width="1" height="5" fill="#0000ff"/>
<rect x="187" y="559" width="1" height="8" fill="#0000ff"/>
<rect x="191" y="559" width="1" height="10" fill="#0000ff"/>
<rect x="195" y="559" width="1" height="11" fill="#0000ff"/>
<rect x="199" y="559" width="1" height="12" fill="#0000ff"/>
<rect x="203" y="559" width="1" height="14" fill="#0000ff"/>
<rect x="207" y="559" width="1" height="14" fill="#0000ff"/>
<rect x="211" y="559" width="1" height="14" fill="#0000ff"/>
<rect x="215" y="559" width="1" height="14" fill="#0000ff"/>
<rect x="219" y="559" width="1" height="14" fill="#0000ff"/>
<rect x="223" y="559" width="1" height="14" fill="#0000ff"/>
<rect x="227" y="559" width="1" height="15" fill="#0000ff"/>
<rect x="231" y="559" width="1" height="14" fill="#0000ff"/>
<rect x="235" y="559" width="1" height="12" fill="#0000ff"/>
<rect x="239" y="559" width="1" height="8" fill="#0000ff"/>
<rect x="243" y="559" width="1" height="4" fill="#0000ff"/>
<rect x="247" y="559" width="1" height="1" fill="#0000ff"/>
<rect x="251" y="556" width="1" height="2" fill="#0000ff"/>
<rect x="255" y="553" width="1" height="5" fill="#0000ff"/>
<rect x="259" y="551" width="1" height="7" fill="#0000ff"/>
<rect x="263" y="549" width="1" height="9" fill="#0000ff"/>
<rect x="267" y="548" width="1" height="10" fill="#0000ff"/>
<rect x="271" y="545" width="1" height="13" fill="#0000ff"/>
<rect x="275" y="545" width="1" height="13" fill="#0000ff"/>
<rect x="279" y="545" width="1" height="13" fill="#0000ff"/>
<rect x="283" y="546" width="1" height="12" fill="#0000ff"/>
<rect x="287" y="548" width="1" height="10" fill="#0000ff"/>
<rect x="291" y="550" width="1" height="8" fill="#0000ff"/>
<rect x="295" y="550" width="1" height="8" fill="#0000ff"/>
<rect x="299" y="550" width="1" height="8" fill="#0000ff"/>
<rect x="303" y="550" width="1" height="8" fill="#0000ff"/>
<rect x="307" y="550" width="1" height="8" fill="#0000ff"/>
<rect x="311" y="550" width="1" height="8" fill="#0000ff"/>
<rect x="315" y="549" width="1" height="9" fill="#0000ff"/>
<rect x="319" y="550" width="1" height="8" fill="#0000ff"/>
<rect x="323" y="551" width="1" height="7" fill="#0000ff"/>
<rect x="327" y="552" width="1" height="6" fill="#0000ff"/>
<rect x="331" y="553" width="1" height="5" fill="#0000ff"/>
<rect x="335" y="556" width="1" height="2" fill="#0000ff"/>
<rect x="343" y="559" width="1" height="2" fill="#0000ff"/>
<rect x="347" y="559" width="1" height="5" fill="#0000ff"/>
<rect x="351" y="559" width="1" height="7" fill="#0000ff"/>
<rect x="355" y="559" width="1" height="7" fill="#0000ff"/>
<rect x="359" y="559" width="1" height="6" fill="#0000ff"/>
<rect x="363" y="559" width="1" height="4" fill="#0000ff"/>
<rect x="367" y="559" width="1" height="4" fill="#0000ff"/>
<rect x="371" y="559" width="1" height="4" fill="#0000ff"/>
<rect x="375" y="559" width="1" height="2" fill="#0000ff"/>
<rect x="379" y="559" width="1" height="1" fill="#0000ff"/>
<rect x="387" y="557" width="1" height="1" fill="#0000ff"/>
<rect x="391" y="556" width="1" height="2" fill="#0000ff"/>
<rect x="395" y="556" width="1" height="2" fill="#0000ff"/>
<rect x="399" y="556" width="1" height="2" fill="#0000ff"/>
<rect x="403" y="557" width="1" height="1" fill="#0000ff"/>
<rect x="411" y="557" width="1" height="1" fill="#0000ff"/>
<rect x="415" y="557" width="1" height="1" fill="#0000ff"/>
<rect x="419" y="557" width="1" height="1" fill="#0000ff"/>
<rect x="423" y="556" width="1" height="2" fill="#0000ff"/>
<rect x="435" y="559" width="1" height="3" fill="#0000ff"/>
<rect x="439" y="559" width="1" height="4" fill="#0000ff"/>
<rect x="443" y="559" width="1" height="4" fill="#0000ff"/>
<rect x="447" y="559" width="1" height="4" fill="#0000ff"/>
<rect x="451" y="559" width="1" height="5" fill="#0000ff"/>
<rect x="455" y="559" width="1" height="6" fill="#0000ff"/>
<rect x="459" y="559" width="1" height="6" fill="#0000ff"/>
<rect x="463" y="559" width="1" height="6" fill="#0000ff"/>
<rect x="467" y="559" width="1" height="7" fill="#0000ff"/>
<rect x="471" y="559" width="1" height="8" fill="#0000ff"/>
<rect x="475" y="559" width="1" height="10" fill="#0000ff"/>
<rect x="479" y="559" width="1" height="10" fill="#0000ff"/>
<rect x="483" y="559" width="1" height="11" fill="#0000ff"/>
<rect x="487" y="559" width="1" height="11" fill="#0000ff"/>
<rect x="491" y="559" width="1" height="10" fill="#0000ff"/>
<rect x="495" y="559" width="1" height="10" fill="#0000ff"/>
<rect x="499" y="559" width="1" height="10" fill="#0000ff"/>
<rect x="503" y="559" width="1" height="8" fill="#0000ff"/>
<rect x="507" y="559" width="1" height="7" fill="#0000ff"/>
<rect x="511" y="559" width="1" height="6" fill="#0000ff"/>
<rect x="515" y="559" width="1" height="4" fill="#0000ff"/>
<rect x="519" y="559" width="1" height="2" fill="#0000ff"/>
<rect x="531" y="559" width="1" height="1" fill="#0000ff"/>
<rect x="543" y="556" width="1" height="2" fill="#0000ff"/>
<rect x="547" y="557" width="1" height="1" fill="#0000ff"/>
<rect x="559" y="559" width="1" height="2" fill="#0000ff"/>
<rect x="563" y="559" width="1" height="2" fill="#0000ff"/>
<rect x="567" y="559" width="1" height="2" fill="#0000ff"/>
<rect x="571" y="559" width="1" height="3" fill="#0000ff"/>
<rect x="575" y="559" width="1" height="3" fill="#0000ff"/>
<rect x="579" y="559" width="1" height="4" fill="#0000ff"/>
<rect x="583" y="559" width="1" height="5" fill="#0000ff"/>
<rect x="587" y="559" width="1" height="6" fill="#0000ff"/>
<rect x="591" y="559" width="1" height="6" fill="#0000ff"/>
<rect x="595" y="559" width="1" height="5" fill="#0000ff"/>
<rect x="599" y="559" width="1" height="5" fill="#0000ff"/>
<rect x="603" y="559" width="1" height="5" fill="#0000ff"/>
<rect x="607" y="559" width="1" height="6" fill="#0000ff"/>
<rect x="611" y="559" width="1" height="6" fill="#0000ff"/>
</g>
<polyline points="3.0,572.0 15.0,570.0 30.0,568.0 45.0,566.5 57.5,565.0 67.5,561.0 75.0,557.0 82.5,549.5 92.5,541.0 102.5,532.0 109.5,526.0 116.0,522.5 122.0,520.0 131.0,520.0 137.0,521.0 142.0,523.0 153.0,529.0 160.0,533.0 165.0,538.0 170.0,542.0 175.0,547.0 185.0,555.8 195.0,562.0 205.0,567.0 215.0,570.0 225.0,572.0 235.0,572.5 245.0,570.0 255.0,565.0 265.0,558.0 272.5,553.0 280.0,549.0 287.5,547.0 297.5,546.5 307.5,547.5 317.5,549.0 327.5,550.0 337.5,552.0 345.0,553.0 352.5,557.0 360.0,560.0 367.5,562.0 375.0,563.0 382.5,562.0 390.0,560.8 397.5,558.0 405.0,557.5 415.0,556.5 430.0,556.5 440.0,557.8 450.0,560.0 460.0,562.5 470.0,564.5 480.0,566.5 492.5,568.0 505.0,568.5 515.0,567.5 522.5,565.0 530.0,562.0 540.0,559.5 547.5,557.8 557.5,557.5 565.0,558.8 575.0,560.0 585.0,561.5 595.0,563.0 605.0,563.5 611.5,563.5" fill="none" stroke="#ff0000" stroke-width="1" stroke-linejoin="round" shape-rendering="crispEdges" stroke-dasharray="3 3"/>
<g shape-rendering="crispEdges">
<rect x="2" y="2" width="635" height="1" fill="#000"/>
<rect x="2" y="354" width="635" height="1" fill="#000"/>
<rect x="2" y="2" width="1" height="353" fill="#000"/>
<rect x="636" y="2" width="1" height="353" fill="#000"/>
<rect x="2" y="356" width="635" height="1" fill="#000"/>
<rect x="2" y="425" width="635" height="1" fill="#000"/>
<rect x="2" y="356" width="1" height="70" fill="#000"/>
<rect x="636" y="356" width="1" height="70" fill="#000"/>
<rect x="2" y="427" width="635" height="1" fill="#000"/>
<rect x="2" y="512" width="635" height="1" fill="#000"/>
<rect x="2" y="427" width="1" height="86" fill="#000"/>
<rect x="636" y="427" width="1" height="86" fill="#000"/>
<rect x="2" y="514" width="635" height="1" fill="#000"/>
<rect x="2" y="576" width="635" height="1" fill="#000"/>
<rect x="2" y="514" width="1" height="63" fill="#000"/>
<rect x="636" y="514" width="1" height="63" fill="#000"/>
<rect x="637" y="41" width="2" height="1" fill="#000"/>
<rect x="637" y="90" width="2" height="1" fill="#000"/>
<rect x="637" y="188" width="2" height="1" fill="#000"/>
<rect x="637" y="237" width="2" height="1" fill="#000"/>
<rect x="637" y="286" width="2" height="1" fill="#000"/>
<rect x="637" y="336" width="2" height="1" fill="#000"/>
<rect x="3" y="577" width="1" height="3" fill="#000"/>
<rect x="99" y="577" width="1" height="3" fill="#000"/>
<rect x="195" y="577" width="1" height="3" fill="#000"/>
<rect x="291" y="577" width="1" height="3" fill="#000"/>
<rect x="387" y="577" width="1" height="3" fill="#000"/>
<rect x="483" y="577" width="1" height="3" fill="#000"/>
<rect x="579" y="577" width="1" height="3" fill="#000"/>
<rect x="638" y="133" width="56" height="14" fill="#ff0000"/>
<rect x="638" y="166" width="56" height="14" fill="#ff0000"/>
<rect x="638" y="204" width="56" height="14" fill="#000"/>
<rect x="638" y="218" width="56" height="14" fill="#008000"/>
<rect x="638" y="246" width="56" height="14" fill="#008000"/>
<rect x="638" y="291" width="56" height="14" fill="#008000"/>
<rect x="637" y="358" width="1" height="1" fill="#000"/>
<rect x="637" y="424" width="1" height="1" fill="#000"/>
<rect x="637" y="429" width="1" height="1" fill="#000"/>
<rect x="637" y="511" width="1" height="1" fill="#000"/>
<rect x="637" y="516" width="1" height="1" fill="#000"/>
<rect x="637" y="139" width="1" height="1" fill="#000"/>
<rect x="637" y="172" width="1" height="1" fill="#000"/>
<rect x="637" y="211" width="1" height="1" fill="#000"/>
<rect x="637" y="224" width="1" height="1" fill="#000"/>
<rect x="637" y="252" width="1" height="1" fill="#000"/>
<rect x="637" y="297" width="1" height="1" fill="#000"/>
</g>
<text x="643" y="46" textLength="45.8" lengthAdjust="spacingAndGlyphs">0.91525</text>
<text x="643" y="95" textLength="45.8" lengthAdjust="spacingAndGlyphs">0.91305</text>
<text x="643" y="193" textLength="45.8" lengthAdjust="spacingAndGlyphs">0.90875</text>
<text x="643" y="242" textLength="45.8" lengthAdjust="spacingAndGlyphs">0.90655</text>
<text x="643" y="291" textLength="45.8" lengthAdjust="spacingAndGlyphs">0.90440</text>
<text x="643" y="341" textLength="45.8" lengthAdjust="spacingAndGlyphs">0.90220</text>
<text x="643" y="145" class="w" textLength="45.8" lengthAdjust="spacingAndGlyphs">0.91091</text>
<text x="643" y="178" class="w" textLength="45.8" lengthAdjust="spacingAndGlyphs">0.90946</text>
<text x="643" y="216" class="w" textLength="45.8" lengthAdjust="spacingAndGlyphs">0.90770</text>
<text x="643" y="230" class="w" textLength="45.8" lengthAdjust="spacingAndGlyphs">0.90712</text>
<text x="643" y="258" class="w" textLength="45.8" lengthAdjust="spacingAndGlyphs">0.90589</text>
<text x="643" y="303" class="w" textLength="45.8" lengthAdjust="spacingAndGlyphs">0.90389</text>
<text x="640.1" y="370">100</text>
<text x="638.6" y="383">70</text>
<text x="638.6" y="396">50</text>
<text x="638.6" y="409">30</text>
<text x="640.1" y="422">0</text>
<text x="640.1" y="441">100</text>
<text x="638.6" y="450">80</text>
<text x="638.6" y="475">50</text>
<text x="638.6" y="500">20</text>
<text x="640.1" y="509">0</text>
<text x="640.5" y="528" textLength="52" lengthAdjust="spacingAndGlyphs">0.003081</text>
<text x="640.5" y="563">0.00</text>
<text x="640" y="563">0</text>
<text x="640.5" y="572.5" textLength="58" lengthAdjust="spacingAndGlyphs">-0.001271</text>
<text x="2.7" y="592" textLength="70.5" lengthAdjust="spacingAndGlyphs">19 Aug 2020</text>
<text x="98.7" y="592" textLength="74.5" lengthAdjust="spacingAndGlyphs">20 Aug 00:00</text>
<text x="194.7" y="592" textLength="74.5" lengthAdjust="spacingAndGlyphs">21 Aug 00:00</text>
<text x="290.7" y="592" textLength="74.5" lengthAdjust="spacingAndGlyphs">24 Aug 00:00</text>
<text x="386.7" y="592" textLength="74.5" lengthAdjust="spacingAndGlyphs">25 Aug 00:00</text>
<text x="482.7" y="592" textLength="74.5" lengthAdjust="spacingAndGlyphs">26 Aug 00:00</text>
<text x="578.7" y="592" textLength="74.5" lengthAdjust="spacingAndGlyphs">27 Aug 00:00</text>
</svg></body></html>
